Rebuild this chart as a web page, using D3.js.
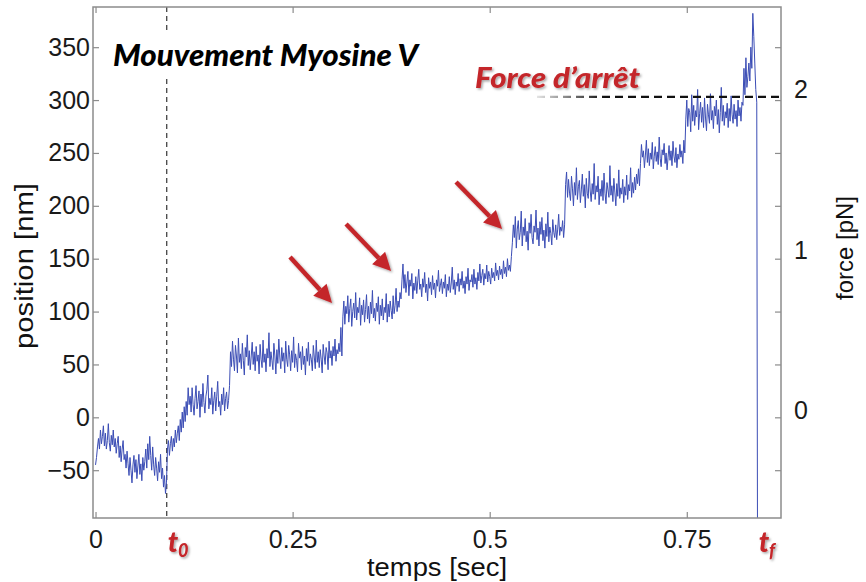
<!DOCTYPE html>
<html><head><meta charset="utf-8">
<script src="https://cdn.jsdelivr.net/npm/d3@7"></script>
<style>body{margin:0;background:#fff}svg{display:block}</style>
</head><body><svg id="c" width="866" height="582"></svg>
<script>
// ---- data ----
const sampleInterval = 0.00125; // seconds between samples
const positionNm = [
 // before t0
 -45,-38,-28,-20,-30,-12,-25,-18,-8,-27,
 -15,-30,-22,-6,-24,-32,-17,-26,-12,-28,
 -20,-34,-25,-18,-38,-27,-42,-30,-22,-40,
 -35,-48,-32,-44,-55,-38,-50,-62,-45,-36,
 -52,-40,-58,-46,-35,-54,-44,-60,-38,-50,
 -42,-30,-48,-25,-40,-18,-36,-50,-28,-45,
 -55,-38,-48,-60,-42,-52,-35,-58,-48,-66,
 -55,-72,-62,
 // after t0, rising
 -30,-22,-36,-25,-18,-32,-20,-28,-12,-24,-15,-8,-22,-2,-14,5,-10,10,-4,15,2,28,12,
 // step ~15
 20,5,28,12,2,18,30,8,15,25,0,22,10,32,14,4,20,26,40,8,18,12,28,3,16,24,6,20,34,10,15,2,22,12,28,6,18,24,8,16,30,
 // step ~57
 62,48,72,55,44,68,58,42,75,52, 60,46,70,54,40,66,57,78,49,63,
 45,58,71,50,62,44,67,53,59,41, 69,55,47,73,52,60,43,65,56,80,
 48,62,54,45,70,58,41,64,51,74, 57,46,66,53,61,42,72,55,48,68,
 59,44,63,52,76,47,60,54,43,70, 56,62,45,67,50,58,40,65,53,71,
 49,60,55,44,68,57,46,73,52,62, 47,64,55,42,69,58,50,66,61,45,
 72,56,63,49,67,58,74,53,64,60, 70,62,85,58,
 // step ~102
 95,110,88,105,98,115,90,103,112,86, 100,108,94,118,92,104,99,113,87,106,
 97,111,90,102,116,93,105,89,109,98, 120,94,103,91,108,100,114,88,106,96,
 112,92,104,99,117,90,107,95,110,101, 93,115,98,106,122,100,110,104,118,112,
 // step ~128
 130,145,122,135,118,128,138,115,130,124, 136,112,127,120,133,117,129,140,121,126,
 114,131,123,137,118,126,110,132,122,128, 116,134,121,127,113,130,124,139,119,125,
 131,117,128,122,135,114,126,120,133,118, 127,142,121,130,116,128,124,136,119,131,
 125,138,122,129,117,133,126,141,120,130, 128,135,123,140,126,132,121,137,129,145,
 127,134,140,125,136,131,144,128,138,133, 126,141,132,137,129,146,134,139,130,143,
 135,140,131,148,136,142,133,150,139,144, 138,152,
 // step ~177
 165,182,170,190,160,178,186,168,175,195, 162,180,172,188,166,176,158,184,174,192,
 170,164,181,175,196,168,179,162,185,173, 189,167,177,160,183,171,194,166,180,174,
 163,187,175,170,182,168,178,192,172,180, 176,186,170,182,
 // step ~214
 220,232,208,225,212,205,228,216,200,222, 210,236,206,218,224,203,215,230,209,220,
 198,226,212,207,233,214,204,221,211,240, 206,219,213,228,201,216,209,224,205,231,
 212,202,222,215,208,238,210,219,204,226, 213,200,221,209,234,207,217,211,225,203,
 218,210,229,206,220,214,236,208,222,212, 227,215,230,221,235,219,
 // step ~246
 240,258,246,252,236,248,262,241,254,238, 250,244,260,235,247,256,242,251,239,265,
 245,237,253,248,259,240,250,234,246,257, 243,252,238,261,247,241,255,236,249,244,
 258,246,252,240,262,250,
 // step ~285
 282,300,275,292,288,270,305,280,295,276, 290,284,310,272,287,298,279,293,274,302,
 283,271,296,286,278,306,281,290,273,294, 285,300,277,291,269,288,312,280,295,276,
 289,283,297,274,292,280,304,286,278,296, 282,290,275,300,285,293,280,298,
 // final rise, spike and release
 295,330,305,340,312,322,335,318,350,330,382,360,335,310,298,-250
];
const xTickValues = [0, 0.25, 0.5, 0.75];
const xTickLabels = ["0", "0.25", "0.5", "0.75"];
const yTickValues = [-50, 0, 50, 100, 150, 200, 250, 300, 350];
const forceTickValues = [0, 1, 2];
const markerTimes = [{t: 0.0903, sub: "0"}, {t: 0.840, sub: "f"}];
const stallPositionNm = 303;
const stallStartTime = 0.56, stallSolidTime = 0.645;
const arrowSegments = [
  {t1: 0.2467, p1: 151.6, t2: 0.300, p2: 108},
  {t1: 0.3178, p1: 182.8, t2: 0.3749, p2: 138.3},
  {t1: 0.4573, p1: 222.5, t2: 0.5157, p2: 178}
];
const titleText = "Mouvement Myosine V";
const stallText = "Force d\u2019arr\u00eat";

// ---- layout ----
const L = 93, R = 781, T = 7, B = 518;
const svg = d3.select("#c");
const x = d3.scaleLinear().domain([-0.0032, 0.8695]).range([L, R]);
const y = d3.scaleLinear().domain([-95.2, 388]).range([B, T]);
const yForce = d3.scaleLinear().domain([-0.667, 2.517]).range([B, T]);
const RED = "#c4262a", BLUE = "#3b4db5", AX = "#8c8c8c";
const sans = "'Liberation Sans', Arial, sans-serif";
const lato = "Lato, 'Open Sans', sans-serif";

const defs = svg.append("defs");
defs.append("clipPath").attr("id", "plot").append("rect")
  .attr("x", L).attr("y", T).attr("width", R - L).attr("height", B - T);
const sh = defs.append("filter").attr("id", "shadow").attr("x", "-20%").attr("y", "-20%").attr("width", "150%").attr("height", "160%");
sh.append("feDropShadow").attr("dx", 1.5).attr("dy", 1.5).attr("stdDeviation", 1.2)
  .attr("flood-color", "#000").attr("flood-opacity", 0.35);
const grad = defs.append("linearGradient").attr("id", "stallGrad").attr("gradientUnits", "userSpaceOnUse")
  .attr("x1", x(stallStartTime)).attr("x2", x(stallSolidTime)).attr("y1", 0).attr("y2", 0);
grad.append("stop").attr("offset", 0).attr("stop-color", "#e4e4e4");
grad.append("stop").attr("offset", 1).attr("stop-color", "#111");

// t0 dashed vertical
svg.append("line").attr("x1", x(markerTimes[0].t)).attr("x2", x(markerTimes[0].t))
  .attr("y1", T).attr("y2", B).attr("stroke", "#444").attr("stroke-width", 1.3)
  .attr("stroke-dasharray", "5,4");

// trace
const line = d3.line().x((d, i) => x(i * sampleInterval)).y(d => y(d));
svg.append("path").datum(positionNm).attr("clip-path", "url(#plot)")
  .attr("d", line).attr("fill", "none").attr("stroke", BLUE).attr("stroke-width", 1)
  .attr("stroke-linejoin", "round");

// stall dashed line
svg.append("line").attr("x1", x(stallStartTime)).attr("x2", R)
  .attr("y1", y(stallPositionNm)).attr("y2", y(stallPositionNm))
  .attr("stroke", "url(#stallGrad)").attr("stroke-width", 2.2).attr("stroke-dasharray", "8,5");

// box
svg.append("rect").attr("x", L).attr("y", T).attr("width", R - L).attr("height", B - T)
  .attr("fill", "none").attr("stroke", AX).attr("stroke-width", 1.5);

// axes
function styleAxis(g) {
  g.select(".domain").remove();
  g.selectAll(".tick line").attr("stroke", AX).attr("stroke-width", 1.2);
  g.selectAll(".tick text").attr("fill", "#1a1a1a").style("font-family", sans).style("font-size", "25px");
}
svg.append("g").attr("transform", `translate(${L},0)`)
  .call(d3.axisLeft(y).tickValues(yTickValues).tickSizeInner(-6).tickSizeOuter(0).tickPadding(3))
  .call(styleAxis);
svg.append("g").attr("transform", `translate(${R},0)`)
  .call(d3.axisRight(y).tickValues(yTickValues).tickSizeInner(-6).tickSizeOuter(0).tickFormat(""))
  .call(styleAxis);
svg.append("g").attr("transform", `translate(${R},0)`)
  .call(d3.axisRight(yForce).tickValues(forceTickValues).tickSize(0).tickPadding(13).tickFormat(d3.format("d")))
  .call(styleAxis);
svg.append("g").attr("transform", `translate(0,${B})`)
  .call(d3.axisBottom(x).tickValues(xTickValues).tickSizeInner(-6).tickSizeOuter(0).tickPadding(12)
    .tickFormat((d, i) => xTickLabels[i]))
  .call(styleAxis);
svg.append("g").attr("transform", `translate(0,${T})`)
  .call(d3.axisTop(x).tickValues(xTickValues).tickSizeInner(-6).tickSizeOuter(0).tickFormat(""))
  .call(styleAxis);

// axis titles
svg.append("text").attr("transform", `translate(33,${(182 + 350) / 2}) rotate(-90)`)
  .attr("text-anchor", "middle").attr("textLength", 166).attr("lengthAdjust", "spacingAndGlyphs")
  .style("font-family", sans).style("font-size", "26px").attr("fill", "#111").text("position [nm]");
svg.append("text").attr("x", (367 + 507) / 2).attr("y", 576).attr("text-anchor", "middle")
  .attr("textLength", 140).attr("lengthAdjust", "spacingAndGlyphs")
  .style("font-family", sans).style("font-size", "26px").attr("fill", "#111").text("temps [sec]");
svg.append("text").attr("transform", `translate(853,248) rotate(-90)`)
  .attr("text-anchor", "middle").style("font-family", sans).style("font-size", "24px")
  .attr("fill", "#111").text("force [pN]");

// title with white background
const title = svg.append("text").attr("x", 113).attr("y", 66)
  .attr("textLength", 305).attr("lengthAdjust", "spacingAndGlyphs")
  .style("font-family", lato).style("font-size", "30px").style("font-weight", "900").style("font-style", "italic")
  .attr("fill", "#000").text(titleText);
const tb = title.node().getBBox();
svg.insert("rect", () => title.node()).attr("x", tb.x - 4).attr("y", tb.y - 4)
  .attr("width", tb.width + 8).attr("height", tb.height + 10).attr("fill", "#fff");

// stall text
svg.append("text").attr("x", 475).attr("y", 88).attr("textLength", 165).attr("lengthAdjust", "spacingAndGlyphs")
  .style("font-family", lato).style("font-size", "28px").style("font-weight", "900").style("font-style", "italic")
  .attr("fill", RED).attr("filter", "url(#shadow)").text(stallText);

// t0 / tf labels
markerTimes.forEach(m => {
  const t = svg.append("text").attr("x", x(m.t) + 1).attr("y", 552)
    .style("font-family", lato).style("font-weight", "900").style("font-style", "italic")
    .attr("fill", RED).attr("filter", "url(#shadow)");
  t.append("tspan").style("font-size", "28px").text("t");
  t.append("tspan").attr("dy", 5).style("font-size", "18px").text(m.sub);
});

// arrows
arrowSegments.forEach(a => {
  const x1 = x(a.t1), y1 = y(a.p1), x2 = x(a.t2), y2 = y(a.p2);
  const ang = Math.atan2(y2 - y1, x2 - x1);
  const headL = 18, headW = 9;
  const bx = x2 - headL * Math.cos(ang), by = y2 - headL * Math.sin(ang);
  const g = svg.append("g").attr("filter", "url(#shadow)");
  g.append("line").attr("x1", x1).attr("y1", y1).attr("x2", bx).attr("y2", by)
    .attr("stroke", RED).attr("stroke-width", 4.5);
  const px = -Math.sin(ang), py = Math.cos(ang);
  g.append("path").attr("d", `M${x2},${y2}L${bx + px * headW},${by + py * headW}L${bx - px * headW},${by - py * headW}Z`)
    .attr("fill", RED);
});
</script></body></html>
